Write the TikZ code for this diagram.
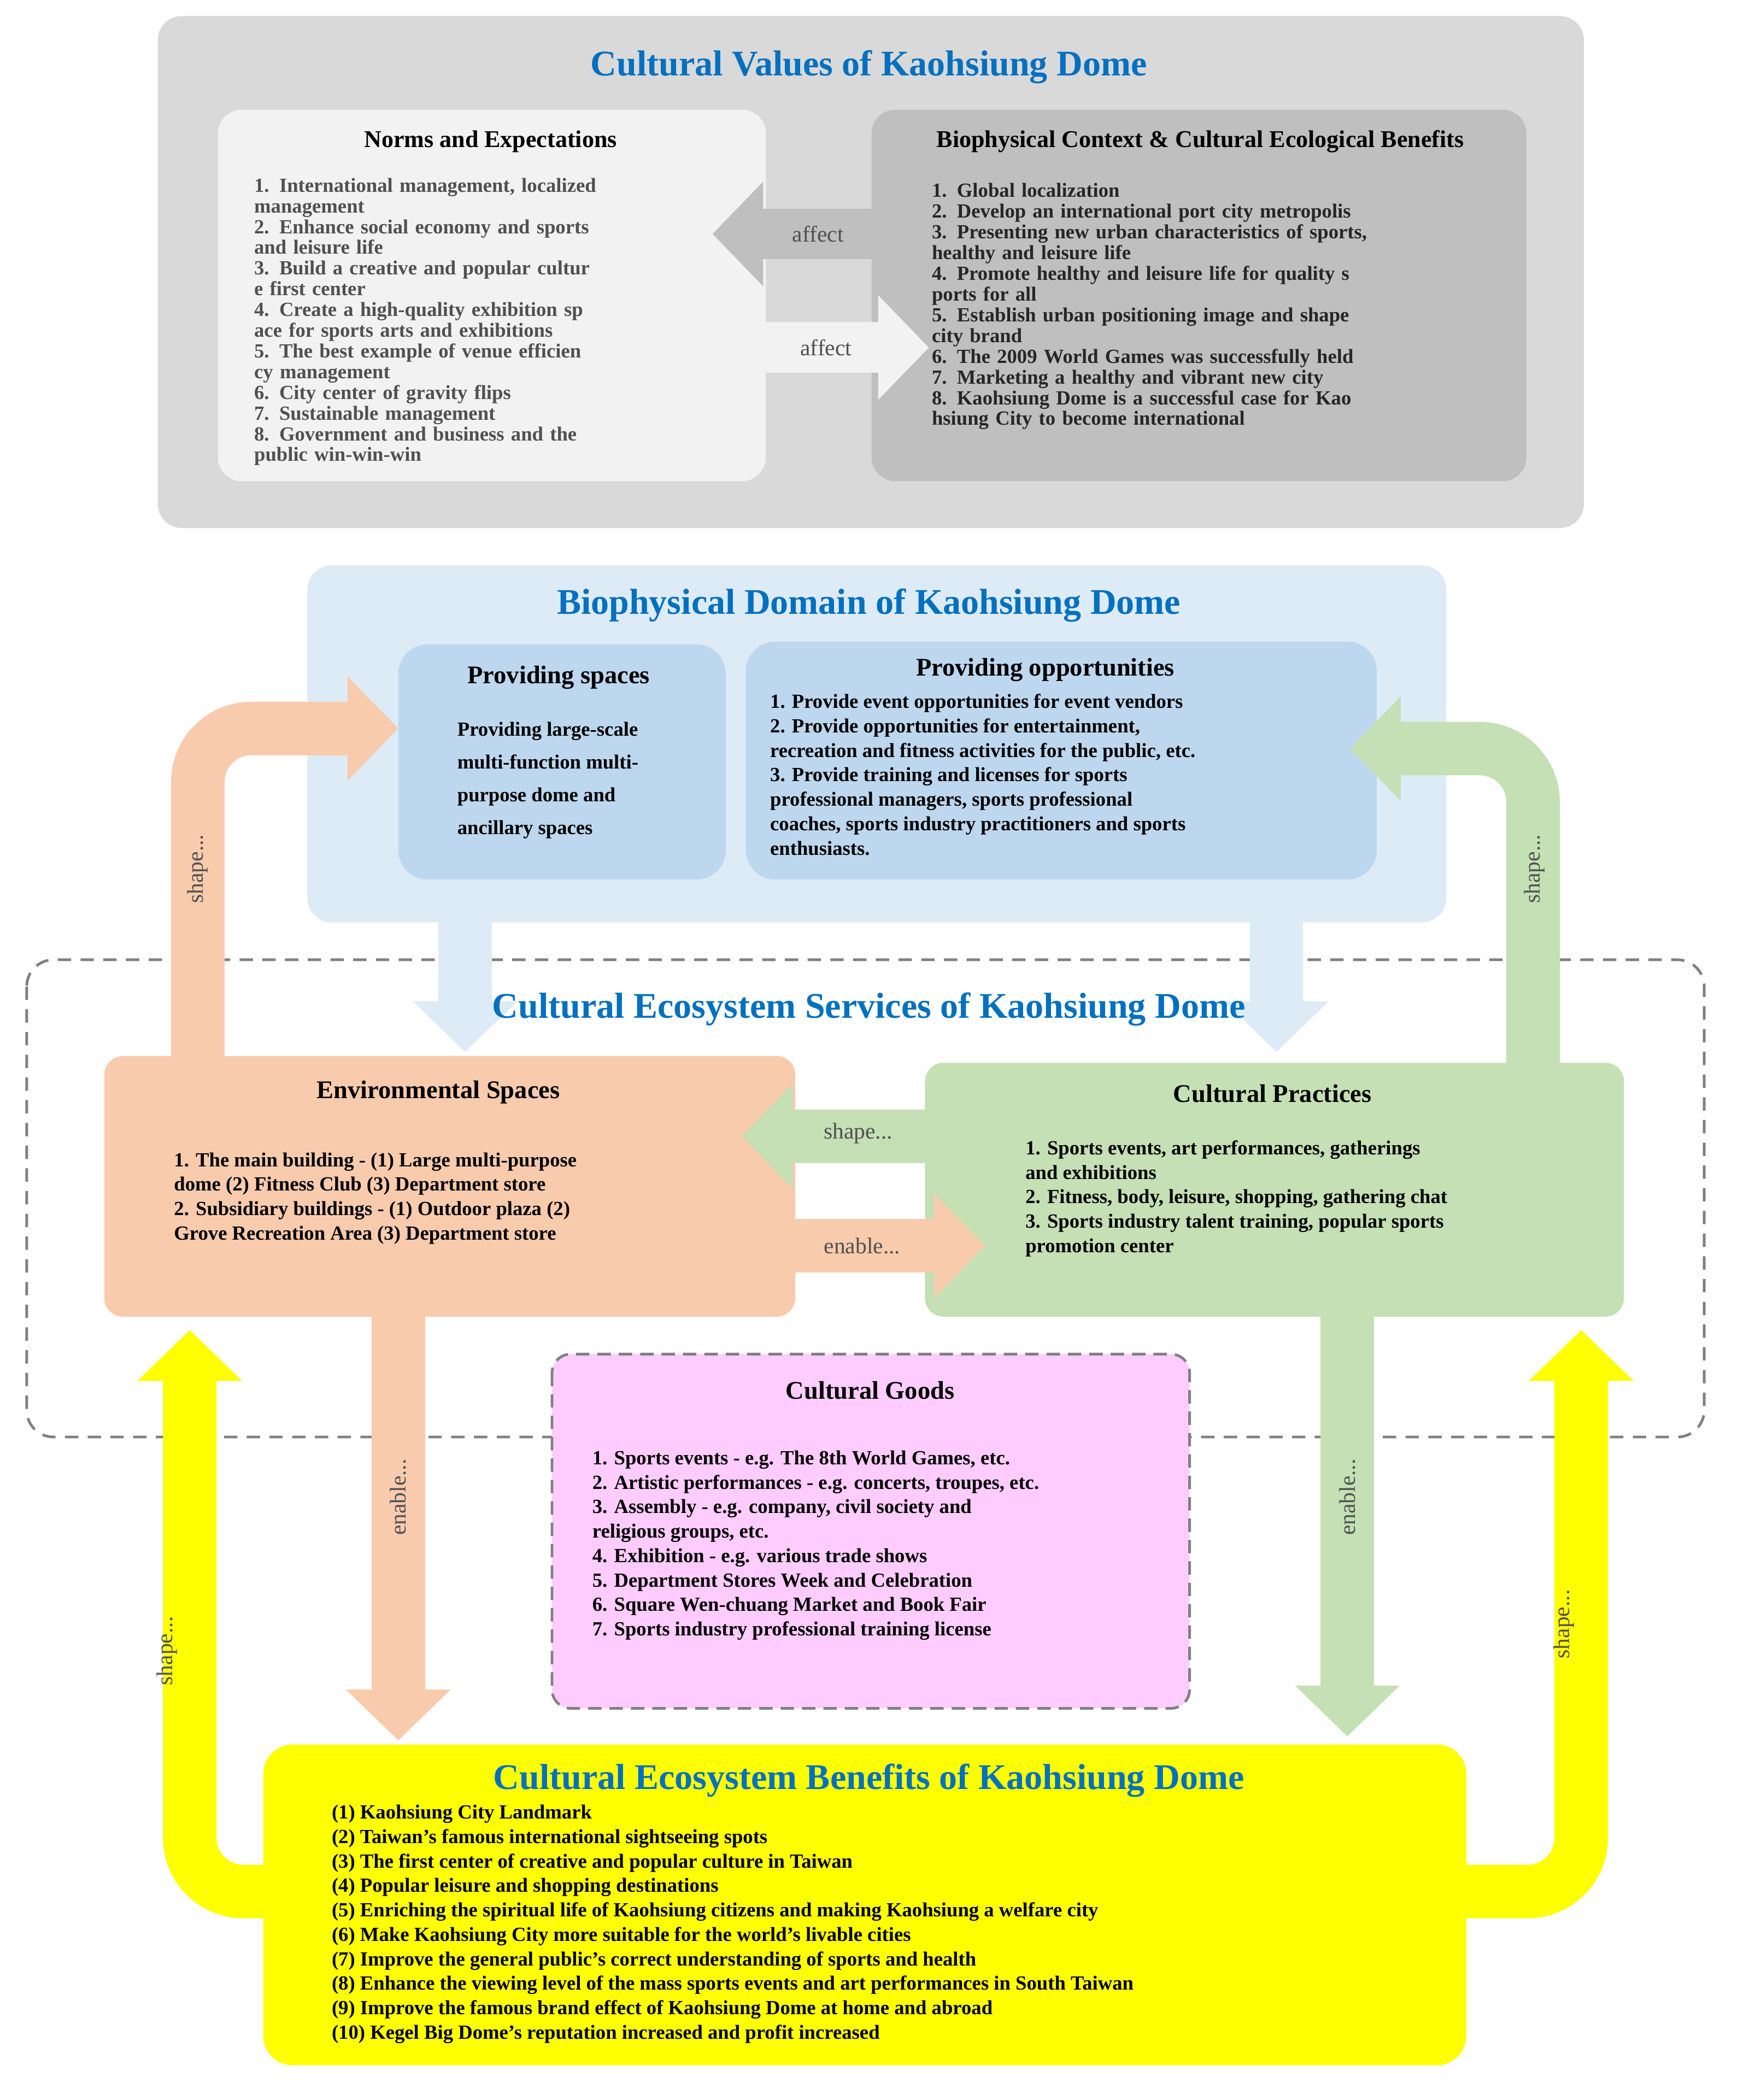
\documentclass[tikz,border=0pt]{standalone}
\usepackage{fontspec}
\setmainfont{Liberation Serif}
\usetikzlibrary{arrows.meta}
\definecolor{tblue}{RGB}{0,112,192}
\definecolor{gbg}{RGB}{217,217,217}
\definecolor{glight}{RGB}{242,242,242}
\definecolor{gdark}{RGB}{191,191,191}
\definecolor{lblue}{RGB}{221,235,247}
\definecolor{mblue}{RGB}{189,215,238}
\definecolor{peach}{RGB}{248,203,173}
\definecolor{green}{RGB}{197,224,180}
\definecolor{pink}{RGB}{255,204,255}
\definecolor{yel}{RGB}{255,255,0}
\definecolor{gtext}{RGB}{80,80,80}
\begin{document}
\begin{tikzpicture}[x=1pt,y=-1pt,
 box/.style={rounded corners=18pt,inner sep=0pt},
 title/.style={font=\fontsize{27}{30}\selectfont\bfseries,text=tblue},
 sub/.style={font=\fontsize{19}{22}\selectfont\bfseries},
 body/.style={font=\fontsize{15}{18.3}\selectfont\bfseries,align=left,anchor=north west,inner sep=0pt},
 gbody/.style={body,text=gtext,font=\fontsize{15}{15.5}\selectfont\bfseries},
 fat/.style={line width=40pt,-{Triangle[width=76pt,length=38pt]}},
 lab/.style={font=\fontsize{17}{20}\selectfont,text=gtext}]
\useasboundingbox (0,0) rectangle (1300,1571);
% top
\path[fill=gbg,box] (118,12) rectangle (1185,395);
\node[title] (tv) at (650,50) {Cultural Values of Kaohsiung Dome};
\path[fill=glight,box] (163,82) rectangle (573,360);
\path[fill=gdark,box] (652,82) rectangle (1142,360);
\coordinate (nrm) at (573,175); \coordinate (ctx) at (652,260);
\draw[gdark,fat,line width=38pt] (ctx|-nrm) ++(50,0) -- (533,175);
\draw[glight,fat,line width=38pt] (nrm|-ctx) ++(-30,0) -- (695,260);
\node[lab] at (612,175) {affect};
\node[lab] at (618,260) {affect};
\node[sub,font=\fontsize{18}{22}\selectfont\bfseries] (ne) at (367,106) {Norms and Expectations};
\node[sub,font=\fontsize{18}{22}\selectfont\bfseries] (bc) at (898,106) {Biophysical Context \& Cultural Ecological Benefits};
\node[gbody,text width=350pt] (nl) at (190,133) {1. International management, localized\\ management\\2. Enhance social economy and sports\\ and leisure life\\3. Build a creative and popular cultur\\e first center\\4. Create a high-quality exhibition sp\\ace for sports arts and exhibitions\\5. The best example of venue efficien\\cy management\\6. City center of gravity flips\\7. Sustainable management\\8. Government and business and the\\public win-win-win};
\node[gbody,text=black!85,text width=440pt] (cl) at (697,137) {1. Global localization\\2. Develop an international port city metropolis\\3. Presenting new urban characteristics of sports,\\ healthy and leisure life\\4. Promote healthy and leisure life for quality s\\ports for all\\5. Establish urban positioning image and shape\\city brand\\6. The 2009 World Games was successfully held\\7. Marketing a healthy and vibrant new city\\8. Kaohsiung Dome is a successful case for Kao\\hsiung City to become international};
% biophysical domain
\path[fill=lblue,box] (230,423) rectangle (1082,690);
\node[title] (bd) at (650,453) {Biophysical Domain of Kaohsiung Dome};
\path[fill=mblue,box,rounded corners=22pt] (298,482) rectangle (543,658);
\path[fill=mblue,box,rounded corners=22pt] (558,480) rectangle (1030,658);
\node[sub] (ps) at (418,507) {Providing spaces};
\node[sub] (po) at (782,501) {Providing opportunities};
\node[body,font=\fontsize{15}{24.5}\selectfont\bfseries] at (342,540) {Providing large-scale\\multi-function multi-\\purpose dome and\\ancillary spaces};
\node[body] at (576,519) {1. Provide event opportunities for event vendors\\2. Provide opportunities for entertainment,\\recreation and fitness activities for the public, etc.\\3. Provide training and licenses for sports\\professional managers, sports professional\\coaches, sports industry practitioners and sports\\enthusiasts.};
% dashed services
\draw[gray,line width=2pt,dash pattern=on 10pt off 7pt,rounded corners=20pt] (20,718) rectangle (1275,1075);
\draw[lblue,fat] (348,690) -- (348,787);
\draw[lblue,fat] (955,690) -- (955,787);
\node[title] (ces) at (650,755) {Cultural Ecosystem Services of Kaohsiung Dome};
\path[fill=peach,box,rounded corners=14pt] (78,790) rectangle (595,985);
\path[fill=green,box,rounded corners=14pt] (692,795) rectangle (1215,985);
\node[sub] (es) at (328,817) {Environmental Spaces};
\node[sub] (cp) at (952,818) {Cultural Practices};
\draw[green,fat] (700,850) -- (555,850);
\draw[peach,fat] (590,932) -- (737,932);
\node[lab] at (642,848) {shape...};
\node[lab] at (645,932) {enable...};
\node[body] at (130,862) {1. The main building - (1) Large multi-purpose\\dome (2) Fitness Club (3) Department store\\2. Subsidiary buildings - (1) Outdoor plaza (2)\\Grove Recreation Area (3) Department store};
\node[body] at (767,853) {1. Sports events, art performances, gatherings\\and exhibitions\\2. Fitness, body, leisure, shopping, gathering chat\\3. Sports industry talent training, popular sports\\promotion center};
% side arrows up
\draw[peach,fat,rounded corners=40pt] (148,792) -- (148,545) -- (298,545);
\node[lab,rotate=90] at (148,650) {shape...};
\draw[green,fat,rounded corners=40pt] (1147,797) -- (1147,560) -- (1010,560);
\node[lab,rotate=90] at (1148,650) {shape...};
% down arrows
\draw[peach,fat] (298,983) -- (298,1302);
\node[lab,rotate=90] at (298,1120) {enable...};
\draw[green,fat] (1008,983) -- (1008,1299);
\node[lab,rotate=90] at (1008,1120) {enable...};
% goods
\draw[fill=pink,draw=gray,line width=2pt,dash pattern=on 10pt off 6pt,rounded corners=14pt] (413,1013) rectangle (890,1278);
\node[sub] (cg) at (651,1040) {Cultural Goods};
\node[body] at (443,1085) {1. Sports events - e.g. The 8th World Games, etc.\\2. Artistic performances - e.g. concerts, troupes, etc.\\3. Assembly - e.g. company, civil society and\\religious groups, etc.\\4. Exhibition - e.g. various trade shows\\5. Department Stores Week and Celebration\\6. Square Wen-chuang Market and Book Fair\\7. Sports industry professional training license};
% benefits
\draw[yel,fat,rounded corners=40pt] (210,1415) -- (142,1415) -- (142,995);
\draw[yel,fat,rounded corners=40pt] (1085,1415) -- (1183,1415) -- (1183,995);
\node[lab,rotate=90] at (125,1235) {shape...};
\node[lab,rotate=90] at (1170,1215) {shape...};
\path[fill=yel,box,rounded corners=22pt] (197,1305) rectangle (1097,1545);
\node[title] (ceb) at (650,1332) {Cultural Ecosystem Benefits of Kaohsiung Dome};
\node[body] at (248,1350) {(1) Kaohsiung City Landmark\\(2) Taiwan's famous international sightseeing spots\\(3) The first center of creative and popular culture in Taiwan\\(4) Popular leisure and shopping destinations\\(5) Enriching the spiritual life of Kaohsiung citizens and making Kaohsiung a welfare city\\(6) Make Kaohsiung City more suitable for the world's livable cities\\(7) Improve the general public's correct understanding of sports and health\\(8) Enhance the viewing level of the mass sports events and art performances in South Taiwan\\(9) Improve the famous brand effect of Kaohsiung Dome at home and abroad\\(10) Kegel Big Dome's reputation increased and profit increased};
\end{tikzpicture}
\end{document}
